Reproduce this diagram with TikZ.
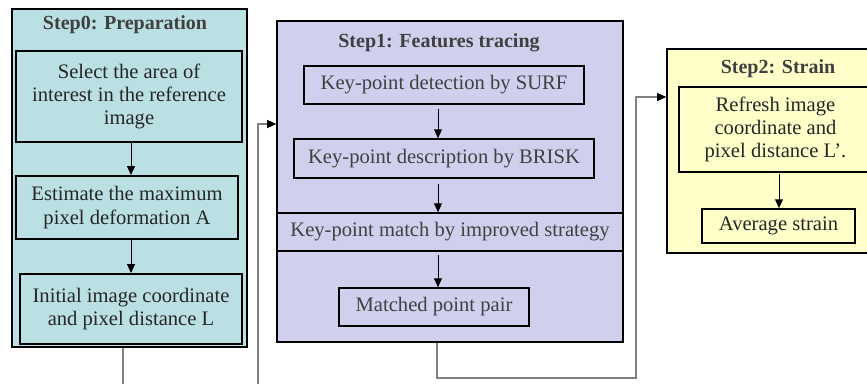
\documentclass[tikz,border=0pt]{standalone}
\usepackage{fontspec}
\setmainfont{Liberation Serif}
\usepackage{xcolor}
\usetikzlibrary{arrows.meta}
\definecolor{prepfill}{RGB}{186,224,227}
\definecolor{tracefill}{RGB}{208,208,238}
\definecolor{strainfill}{RGB}{255,255,202}
\definecolor{titlegray}{RGB}{64,64,64}
\definecolor{linkgray}{RGB}{128,128,128}

\begin{document}
\begin{tikzpicture}[x=1pt, y=-1pt,
		every node/.style={font=\fontsize{20.6}{23.3}\selectfont, align=center, inner sep=0pt},
		stage/.style={draw=black, line width=1.6pt},
		item/.style={draw=black, line width=1.5pt},
		heading/.style={font=\fontsize{20}{23.3}\selectfont\bfseries, text=titlegray},
		flow/.style={-{Triangle[length=9pt,width=8pt]}, line width=1pt},
		link/.style={draw=linkgray, line width=1.3pt, -{Triangle[length=9pt,width=8pt,color=black]}}]
		\useasboundingbox (0,0) rectangle (867,383);
		\node[stage, fill=prepfill, line width=2.2pt, minimum width=235pt, minimum height=338pt] (step0) at (129.5,178) {};
		\node[heading] (title0) at (125,25) {Step0: Preparation};
		\node[item, line width=2pt, minimum width=226pt, minimum height=91pt, text=black!85] (select) at (129,96.5) {Select the area of\\interest in the reference\\image};
		\node[item, line width=2pt, minimum width=222pt, minimum height=63pt, text=black!85] (estimate) at (127,207.5) {Estimate the maximum\\pixel deformation A};
		\node[item, line width=2pt, minimum width=222pt, minimum height=70pt, text=black!85] (initial) at (131,309) {Initial image coordinate\\and pixel distance L};
		\draw[flow] (select.south -| 131,0) -- (estimate.north -| 131,0);
		\draw[flow] (estimate.south -| 131,0) -- (initial.north -| 131,0);

		\node[stage, fill=tracefill, minimum width=346pt, minimum height=321pt] (step1) at (450,181.5) {};
		\node[heading] (title1) at (439,43) {Step1: Features tracing};
		\node[item, minimum width=280pt, minimum height=38pt, text=titlegray] (surf) at (444,85) {Key-point detection by SURF};
		\node[item, minimum width=300pt, minimum height=39pt, text=titlegray] (brisk) at (444,158.5) {Key-point description by BRISK};
		\node[item, minimum width=346pt, minimum height=38pt, text=titlegray] (match) at (450,232) {Key-point match by improved strategy};
		\node[item, minimum width=190pt, minimum height=38pt, text=titlegray] (pair) at (434,307) {Matched point pair};
		\draw[flow, shorten <=4pt] (surf.south -| 438,0) -- (brisk.north -| 438,0);
		\draw[flow, shorten <=5pt] (brisk.south -| 438,0) -- (match.north -| 438,0);
		\draw[flow, shorten <=3pt] (match.south -| 438,0) -- (pair.north -| 438,0);

		\node[stage, fill=strainfill, minimum width=206pt, minimum height=204pt] (step2) at (770,151) {};
		\node[heading] (title2) at (778,69) {Step2: Strain};
		\node[item, minimum width=193pt, minimum height=85pt, text=black!85] (refresh) at (775.5,129.5) {Refresh image\\coordinate and\\pixel distance L'.};
		\node[item, minimum width=153pt, minimum height=34pt, text=black!85] (average) at (778.5,226) {Average strain};
		\draw[flow, shorten <=1pt] (refresh.south -| 779,0) -- (average.north -| 779,0);

		\draw[link] ([xshift=-6.5pt]step0.south) |- (258,400) |- ([yshift=57.5pt]step1.west);
		\draw[link] ([xshift=-13pt]step1.south) |- (636,378) |- ([yshift=54pt]step2.west);
	\end{tikzpicture}
\end{document}
